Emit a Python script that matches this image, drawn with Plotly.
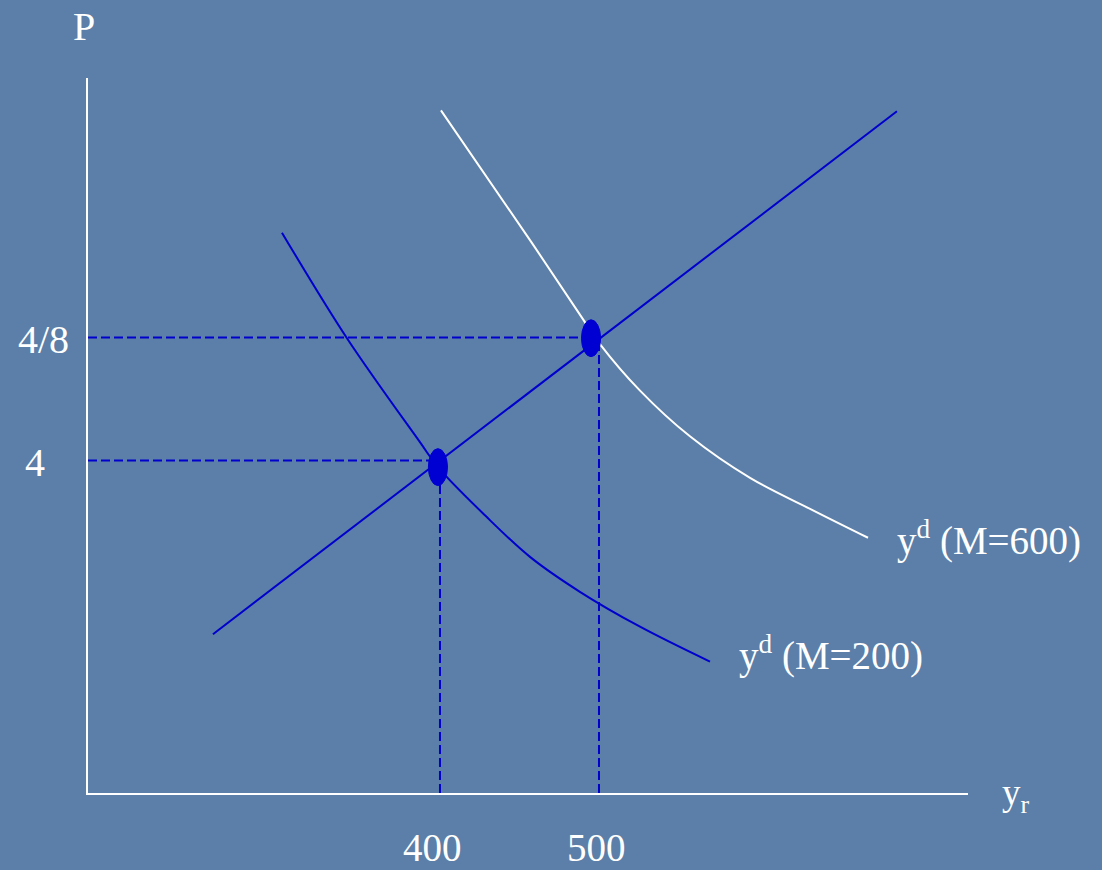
import plotly.graph_objects as go

# ---- data ----
# aggregate supply (straight line)
supply_x = [257.2, 687.4]
supply_p = [1.91, 8.20]

# aggregate demand, M = 200 (blue)
dem200_x = [300.6, 341.5, 387.4, 398.7, 428.3, 456.6, 488.0, 525.8, 569.8]
dem200_p = [6.74, 5.47, 4.22, 3.92, 3.34, 2.84, 2.42, 2.00, 1.58]

# aggregate demand, M = 600 (white)
dem600_x = [400.6, 456.6, 489.9, 500.6, 525.8, 557.2, 595.0, 634.6, 669.2]
dem600_p = [8.21, 6.65, 5.70, 5.40, 4.84, 4.29, 3.79, 3.40, 3.07]

# equilibrium points
eq_x = [398.7, 495.0]
eq_p = [3.92, 5.47]

# reference (dashed) levels and their labels
x_ticks = [400, 500]
x_tick_labels = ["400", "500"]
p_ticks = [4.0, 5.48]
p_tick_labels = ["4", "4/8"]

curve_labels = ["y<sup>d</sup> (M=200)", "y<sup>d</sup> (M=600)"]

# axis ranges
x_range = [178.62, 732.08]
p_range = [0.0, 8.60]

# ---- styles ----
BG = "#5b7fa8"
BLUE = "#0000cc"
DOT = "#0000d2"
WHITE = "#ffffff"
FONT = "Liberation Serif"

fig = go.Figure()

# dashed guide lines
for xv, pv in zip(x_ticks, p_ticks):
    fig.add_trace(go.Scatter(x=[x_range[0], xv], y=[pv, pv], mode="lines",
                             line=dict(color=BLUE, width=2, dash="9px,4px"),
                             hoverinfo="skip", showlegend=False))
    fig.add_trace(go.Scatter(x=[xv, xv], y=[p_range[0], pv], mode="lines",
                             line=dict(color=BLUE, width=2, dash="9px,4px"),
                             hoverinfo="skip", showlegend=False))

# supply line
fig.add_trace(go.Scatter(x=supply_x, y=supply_p, mode="lines",
                         line=dict(color=BLUE, width=2), showlegend=False))
# demand curves
fig.add_trace(go.Scatter(x=dem200_x, y=dem200_p, mode="lines",
                         line=dict(color=BLUE, width=2, shape="spline", smoothing=1.0),
                         showlegend=False))
fig.add_trace(go.Scatter(x=dem600_x, y=dem600_p, mode="lines",
                         line=dict(color=WHITE, width=2, shape="spline", smoothing=1.0),
                         showlegend=False))

# equilibrium ellipses
half_w, half_h = 6.0, 0.222
for xv, pv in zip(eq_x, eq_p):
    fig.add_shape(type="circle", xref="x", yref="y",
                  x0=xv - half_w, x1=xv + half_w, y0=pv - half_h, y1=pv + half_h,
                  fillcolor=DOT, line=dict(color=DOT, width=1), layer="above")

annotations = []
# x tick labels
for xv, lab, xs in zip(x_ticks, x_tick_labels, [-7, -2]):
    annotations.append(dict(x=xv, y=0, xref="x", yref="paper", text=lab,
                            showarrow=False, xanchor="center", yanchor="middle",
                            xshift=xs, yshift=-54,
                            font=dict(family=FONT, size=39, color=WHITE)))
# p tick labels
for pv, lab, xs in zip(p_ticks, p_tick_labels, [-53, -45]):
    annotations.append(dict(x=0, y=pv, xref="paper", yref="y", text=lab,
                            showarrow=False, xanchor="center", yanchor="middle",
                            xshift=xs, yshift=-2,
                            font=dict(family=FONT, size=40, color=WHITE)))
# curve labels
for cx, cp, lab, ys in [(dem200_x[-1], dem200_p[-1], curve_labels[0], 8),
                        (dem600_x[-1], dem600_p[-1], curve_labels[1], -1)]:
    annotations.append(dict(x=cx, y=cp, xref="x", yref="y", text=lab,
                            showarrow=False, xanchor="left", yanchor="middle",
                            xshift=27, yshift=ys,
                            font=dict(family=FONT, size=39, color=WHITE)))
# axis titles
annotations.append(dict(x=0, y=1, xref="paper", yref="paper", text="P",
                        showarrow=False, xanchor="center", yanchor="middle",
                        xshift=-4, yshift=52,
                        font=dict(family=FONT, size=40, color=WHITE)))
annotations.append(dict(x=1, y=0, xref="paper", yref="paper", text="y<sub>r</sub>",
                        showarrow=False, xanchor="left", yanchor="middle",
                        xshift=32, yshift=-2,
                        font=dict(family=FONT, size=37, color=WHITE)))

fig.update_layout(
    width=1102, height=870,
    margin=dict(l=88, r=134, t=78, b=77),
    paper_bgcolor=BG, plot_bgcolor=BG,
    showlegend=False,
    annotations=annotations,
    xaxis=dict(range=x_range, showgrid=False, zeroline=False, showticklabels=False,
               ticks="", showline=True, linecolor=WHITE, linewidth=2, fixedrange=True),
    yaxis=dict(range=p_range, showgrid=False, zeroline=False, showticklabels=False,
               ticks="", showline=True, linecolor=WHITE, linewidth=2, fixedrange=True),
)

fig.write_html("out.html",
               config={"displayModeBar": False},
               post_script="document.body.style.margin='0';document.body.style.overflow='hidden';")
